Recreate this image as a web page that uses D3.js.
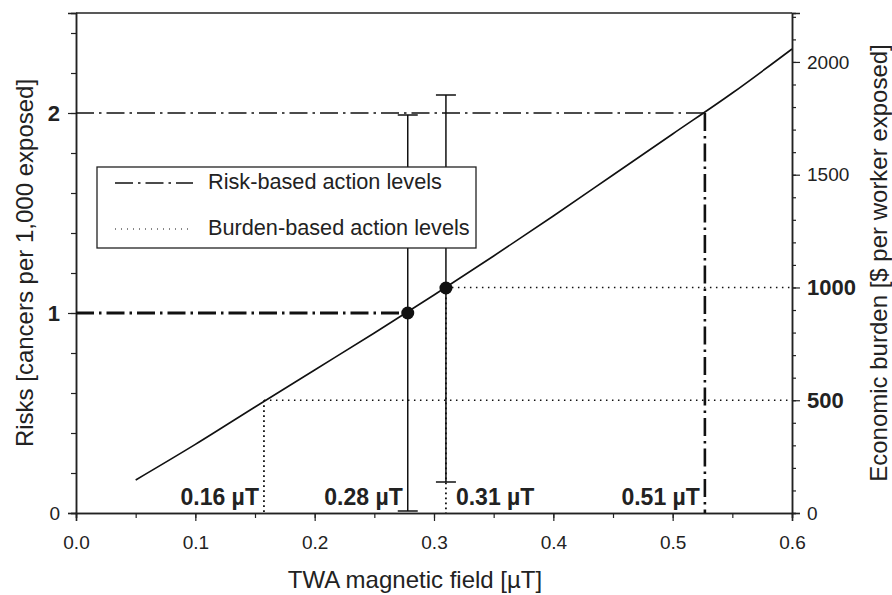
<!DOCTYPE html>
<html>
<head>
<meta charset="utf-8">
<script src="https://cdn.jsdelivr.net/npm/d3@7"></script>
<style>
  body { margin: 0; background: #fff; }
  text { font-family: "Liberation Sans", Arial, sans-serif; fill: #222; }
</style>
</head>
<body>
<script>
// magnetic field (uT) and the risk curve
var fieldT = [0.05, 0.10, 0.15, 0.20, 0.25, 0.30, 0.35, 0.40, 0.45, 0.50, 0.55, 0.60];
var riskCurve = [0.165, 0.343, 0.53, 0.715, 0.90, 1.09, 1.285, 1.485, 1.69, 1.895, 2.10, 2.32];

// estimates with error bars: [field, risk, low, high]
var estimates = [
    [0.278, 1.0, 0.01, 1.99],
    [0.31, 1.125, 0.155, 2.09]
];

// action levels
var riskLevels = [1, 2];
var riskLevelField = [0.278, 0.527];
var riskLevelLabels = ["0.28 \u00b5T", "0.51 \u00b5T"];
var burdenLevels = [500, 1000];
var burdenLevelField = [0.1575, 0.31];
var burdenLevelLabels = ["0.16 \u00b5T", "0.31 \u00b5T"];

var xTicks = [0, 0.1, 0.2, 0.3, 0.4, 0.5, 0.6];
var leftTicks = [0, 1, 2];
var rightTicks = [0, 500, 1000, 1500, 2000];

function init() {
    var w = 892, h = 595;

    var svg = d3.select("body").append("svg")
        .attr("width", w)
        .attr("height", h);

    var x = d3.scaleLinear().domain([0, 0.6]).range([76, 792]);
    var yL = d3.scaleLinear().domain([0, 2.5]).range([513, 13]);
    var yR = d3.scaleLinear().domain([0, 2217]).range([513, 13]);

    // minor ticks first
    svg.append("g").attr("transform", "translate(0,513)")
        .call(d3.axisBottom(x).tickValues(d3.range(0, 0.61, 0.05)).tickSize(5).tickFormat(""));
    svg.append("g").attr("transform", "translate(76,0)")
        .call(d3.axisLeft(yL).tickValues(d3.range(0, 2.5, 0.2)).tickSize(5).tickFormat(""));
    svg.append("g").attr("transform", "translate(792,0)")
        .call(d3.axisRight(yR).tickValues(d3.range(0, 2201, 100)).tickSize(4).tickFormat(""));

    var xAxis = svg.append("g").attr("transform", "translate(0,513)")
        .call(d3.axisBottom(x).tickValues(xTicks).tickSize(8).tickPadding(15)
            .tickFormat(d3.format(".1f")));
    var lAxis = svg.append("g").attr("transform", "translate(76,0)")
        .call(d3.axisLeft(yL).tickValues(leftTicks).tickSize(8).tickPadding(8)
            .tickFormat(d3.format("d")));
    var rAxis = svg.append("g").attr("transform", "translate(792,0)")
        .call(d3.axisRight(yR).tickValues(rightTicks).tickSize(8).tickPadding(7)
            .tickFormat(d3.format("d")));

    svg.selectAll(".domain").attr("stroke", "#222").attr("stroke-width", 1.5);
    svg.selectAll(".tick line").attr("stroke", "#222").attr("stroke-width", 1.2);
    svg.selectAll(".tick text").attr("font-size", 19)
        .attr("font-family", "Liberation Sans, Arial, sans-serif").attr("fill", "#222");
    lAxis.selectAll(".tick text").filter(d => d > 0)
        .attr("font-weight", "bold").attr("font-size", 22);
    rAxis.selectAll(".tick text").filter(d => burdenLevels.includes(d))
        .attr("font-weight", "bold").attr("font-size", 22);

    // top frame line
    svg.append("line")
        .attr("x1", 76).attr("x2", 792)
        .attr("y1", 13).attr("y2", 13)
        .attr("stroke", "#222").attr("stroke-width", 1.5);

    // error bars
    estimates.forEach(e => {
        var g = svg.append("g").attr("stroke", "#111").attr("stroke-width", 1.5);
        g.append("line")
            .attr("x1", x(e[0])).attr("x2", x(e[0]))
            .attr("y1", yL(e[2])).attr("y2", yL(e[3]));
        [e[2], e[3]].forEach(v => {
            g.append("line")
                .attr("x1", x(e[0]) - 10).attr("x2", x(e[0]) + 10)
                .attr("y1", yL(v)).attr("y2", yL(v));
        });
    });

    var dashDot = "18,5,2.5,5";
    var dots = "1.5,4.5";

    // risk-based levels
    svg.append("line")
        .attr("x1", x(0)).attr("x2", x(riskLevelField[0]))
        .attr("y1", yL(riskLevels[0])).attr("y2", yL(riskLevels[0]))
        .attr("stroke", "#111").attr("stroke-width", 2.8).attr("stroke-dasharray", dashDot);
    svg.append("line")
        .attr("x1", x(0)).attr("x2", x(riskLevelField[1]))
        .attr("y1", yL(riskLevels[1])).attr("y2", yL(riskLevels[1]))
        .attr("stroke", "#111").attr("stroke-width", 1.6).attr("stroke-dasharray", dashDot);
    svg.append("line")
        .attr("x1", x(riskLevelField[1])).attr("x2", x(riskLevelField[1]))
        .attr("y1", yL(riskLevels[1])).attr("y2", yL(0))
        .attr("stroke", "#111").attr("stroke-width", 2.6).attr("stroke-dasharray", dashDot);

    // burden-based levels
    burdenLevels.forEach((b, i) => {
        svg.append("line")
            .attr("x1", x(burdenLevelField[i])).attr("x2", x(0.6))
            .attr("y1", yR(b)).attr("y2", yR(b))
            .attr("stroke", "#111").attr("stroke-width", 1.5).attr("stroke-dasharray", dots);
        svg.append("line")
            .attr("x1", x(burdenLevelField[i])).attr("x2", x(burdenLevelField[i]))
            .attr("y1", yR(b)).attr("y2", yR(0))
            .attr("stroke", "#111").attr("stroke-width", 1.8).attr("stroke-dasharray", "1.8,3.2");
    });

    // risk curve
    var line = d3.line()
        .x((d, i) => x(fieldT[i]))
        .y(d => yL(d))
        .curve(d3.curveMonotoneX);
    svg.append("path")
        .datum(riskCurve)
        .attr("d", line)
        .attr("fill", "none")
        .attr("stroke", "#111")
        .attr("stroke-width", 1.6);

    svg.selectAll("circle.est")
        .data(estimates)
        .enter()
        .append("circle")
        .attr("cx", d => x(d[0]))
        .attr("cy", d => yL(d[1]))
        .attr("r", 6.5)
        .attr("fill", "#111");

    // legend
    var lg = svg.append("g");
    lg.append("rect")
        .attr("x", 97).attr("y", 167)
        .attr("width", 379).attr("height", 81)
        .attr("fill", "#fff").attr("stroke", "#222").attr("stroke-width", 1.3);
    lg.append("line")
        .attr("x1", 115).attr("x2", 193).attr("y1", 183).attr("y2", 183)
        .attr("stroke", "#111").attr("stroke-width", 1.3).attr("stroke-dasharray", dashDot);
    lg.append("line")
        .attr("x1", 115).attr("x2", 193).attr("y1", 229).attr("y2", 229)
        .attr("stroke", "#111").attr("stroke-width", 1).attr("stroke-dasharray", "1,5");
    lg.append("text").attr("x", 208).attr("y", 189).attr("font-size", 21.7)
        .text("Risk-based action levels");
    lg.append("text").attr("x", 208).attr("y", 235).attr("font-size", 21.7)
        .text("Burden-based action levels");

    // level labels
    var labels = [
        { t: burdenLevelLabels[0], x: x(burdenLevelField[0]) - 5, anchor: "end" },
        { t: riskLevelLabels[0], x: x(riskLevelField[0]) - 5, anchor: "end" },
        { t: burdenLevelLabels[1], x: x(burdenLevelField[1]) + 10, anchor: "start" },
        { t: riskLevelLabels[1], x: x(riskLevelField[1]) - 5, anchor: "end" }
    ];
    svg.selectAll("text.lvl")
        .data(labels)
        .enter()
        .append("text")
        .attr("class", "lvl")
        .attr("x", d => d.x)
        .attr("y", 505)
        .attr("text-anchor", d => d.anchor)
        .attr("font-size", 23)
        .attr("font-weight", "bold")
        .text(d => d.t);

    // axis titles
    svg.append("text")
        .attr("x", 415).attr("y", 588)
        .attr("text-anchor", "middle").attr("font-size", 24)
        .text("TWA magnetic field [\u00b5T]");
    svg.append("text")
        .attr("transform", "translate(33,263) rotate(-90)")
        .attr("text-anchor", "middle").attr("font-size", 24)
        .text("Risks [cancers per 1,000 exposed]");
    svg.append("text")
        .attr("transform", "translate(887,263) rotate(-90)")
        .attr("text-anchor", "middle").attr("font-size", 24)
        .text("Economic burden [$ per worker exposed]");
}

window.onload = init;
</script>
</body>
</html>
